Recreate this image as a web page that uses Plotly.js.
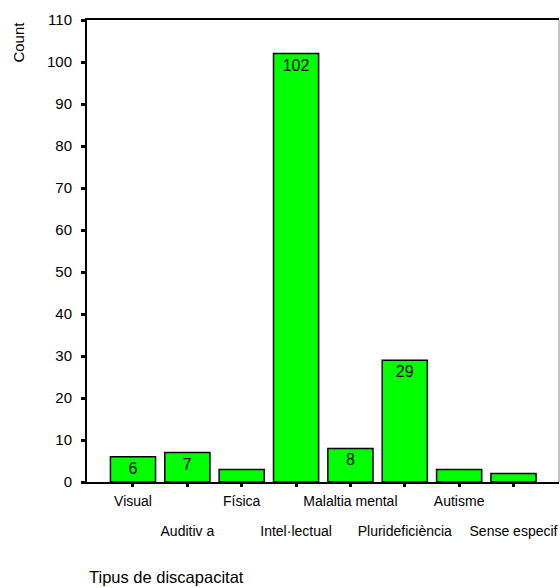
<!DOCTYPE html>
<html>
<head>
<meta charset="utf-8">
<script src="https://cdn.plot.ly/plotly-3.0.1.min.js"></script>
<style>html,body{margin:0;padding:0;background:#fff;}#chart{width:560px;height:588px;}</style>
</head>
<body>
<div id="chart"></div>
<script>
const categories = ["Visual", "Auditiv a", "Física", "Intel·lectual", "Malaltia mental", "Plurideficiència", "Autisme", "Sense especif"];
const counts = [6, 7, 3, 102, 8, 29, 3, 2];
const barLabels = ["6", "7", "", "102", "8", "29", "", ""];
const yTicks = [0, 10, 20, 30, 40, 50, 60, 70, 80, 90, 100, 110];
const yTitle = "Count";
const xTitle = "Tipus de discapacitat";

const FONT = "Liberation Sans, Arial, sans-serif";
const idx = categories.map((c, i) => i);
const oddIdx = idx.filter(i => i % 2 === 1);
const xRange = [-0.846, 7.837];

const trace = {
  type: "bar",
  x: idx,
  y: counts,
  text: barLabels,
  textposition: "inside",
  insidetextanchor: "end",
  textangle: 0,
  constraintext: "none",
  textfont: {family: FONT, size: 16, color: "#000"},
  marker: {color: "#00ff00", line: {color: "#000", width: 1.5}},
  hoverinfo: "none"
};

// carrier trace so that the second (label-only) x axis is drawn
const carrier = {
  type: "scatter", mode: "none",
  x: idx, y: counts,
  xaxis: "x2", yaxis: "y",
  hoverinfo: "none", showlegend: false
};

const layout = {
  width: 560, height: 588,
  margin: {l: 87, r: 1, t: 20, b: 106},
  paper_bgcolor: "#fff", plot_bgcolor: "#fff",
  bargap: 0.17,
  showlegend: false,
  font: {family: FONT, color: "#000"},
  xaxis: {
    range: xRange,
    tickmode: "array", tickvals: idx,
    ticktext: idx.map(i => i % 2 === 0 ? categories[i] : ""),
    tickangle: 0,
    ticks: "outside", ticklen: 3, tickwidth: 3, tickcolor: "#000",
    tickfont: {family: FONT, size: 14, color: "#000"},
    ticklabelstandoff: 2,
    ticklabeloverflow: "allow",
    showline: true, linecolor: "#000", linewidth: 2, mirror: true,
    showgrid: false, zeroline: false, fixedrange: true
  },
  xaxis2: {
    overlaying: "x", anchor: "y", side: "bottom",
    range: xRange,
    tickmode: "array", tickvals: oddIdx, ticktext: oddIdx.map(i => categories[i]),
    tickangle: 0,
    ticks: "", showline: false, showgrid: false, zeroline: false,
    tickfont: {family: FONT, size: 14, color: "#000"},
    ticklabelstandoff: 39,
    ticklabeloverflow: "allow",
    fixedrange: true
  },
  yaxis: {
    range: [0, 110],
    tickmode: "array", tickvals: yTicks, ticktext: yTicks.map(String),
    ticks: "outside", ticklen: 4, tickwidth: 3, tickcolor: "#000",
    ticklabelstandoff: 6,
    tickfont: {family: FONT, size: 15, color: "#000"},
    showline: true, linecolor: "#000", linewidth: 2,
    showgrid: false, zeroline: false, fixedrange: true
  },
  shapes: [
    {type: "line", xref: "paper", yref: "paper", x0: 1, x1: 1, y0: 0, y1: 1, line: {color: "#888", width: 1}}
  ],
  annotations: [
    {text: yTitle, xref: "paper", yref: "paper", x: -0.146, y: 1.0, xanchor: "center", yanchor: "top", textangle: -90, showarrow: false, font: {family: FONT, size: 15, color: "#000"}},
    {text: xTitle, xref: "paper", yref: "paper", x: 0.0, y: -0.205, xanchor: "left", yanchor: "middle", showarrow: false, font: {family: FONT, size: 16.5, color: "#000"}}
  ]
};

Plotly.newPlot("chart", [trace, carrier], layout, {displayModeBar: false, staticPlot: true});
</script>
</body>
</html>
